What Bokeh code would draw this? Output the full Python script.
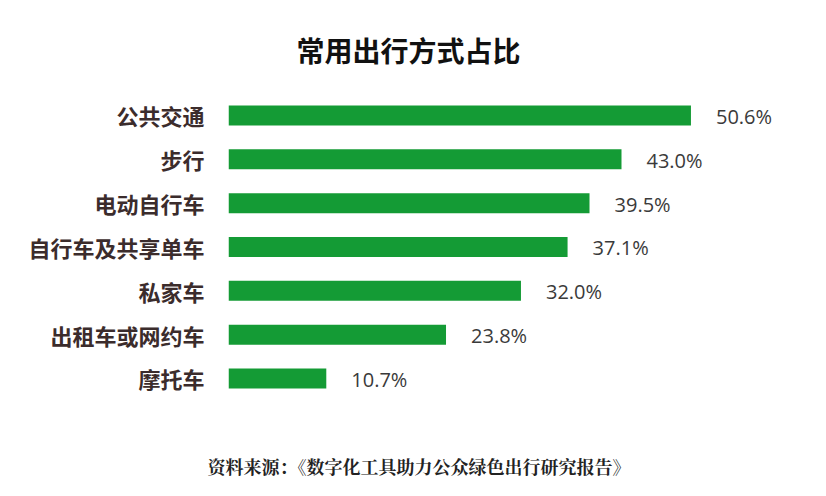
from bokeh.plotting import figure
from bokeh.models import Range1d, FixedTicker, Title, ColumnDataSource
from bokeh.core.properties import value
from bokeh.embed import file_html
from bokeh.resources import INLINE

categories = ["公共交通", "步行", "电动自行车", "自行车及共享单车", "私家车", "出租车或网约车", "摩托车"]
shares = [50.6, 43.0, 39.5, 37.1, 32.0, 23.8, 10.7]
share_labels = ["50.6%", "43.0%", "39.5%", "37.1%", "32.0%", "23.8%", "10.7%"]
title_text = "常用出行方式占比"
source_text = "资料来源：《数字化工具助力公众绿色出行研究报告》"

idx = list(range(len(categories)))
src = ColumnDataSource(dict(y=idx, v=shares, lab=share_labels))

CJK = "Noto Sans CJK SC"

p = figure(width=810, height=480, output_backend="svg", toolbar_location=None,
           x_range=Range1d(0, 63.68), y_range=Range1d(7.689, -0.844),
           x_axis_location=None, y_axis_location="left",
           min_border_left=228, min_border_right=0, min_border_top=78, min_border_bottom=28)
p.outline_line_color = None
p.grid.visible = False
p.background_fill_color = "white"
p.border_fill_color = "white"

p.hbar(y="y", right="v", left=0, height=0.456, source=src, fill_color="#149b35", line_color=None)
p.text(x="v", y="y", text="lab", source=src, x_offset=25, y_offset=1,
       text_align="left", text_baseline="middle",
       text_font=value("Open Sans"), text_font_size="20px", text_color="#3a3a3a")

ya = p.yaxis[0]
ya.ticker = FixedTicker(ticks=idx)
ya.major_label_overrides = {i: c for i, c in zip(idx, categories)}
ya.axis_line_color = None
ya.major_tick_line_color = None
ya.minor_tick_line_color = None
ya.major_tick_out = 0
ya.major_tick_in = 0
ya.major_label_standoff = 24
ya.major_label_text_font = CJK
ya.major_label_text_font_size = "22px"
ya.major_label_text_font_style = "bold"
ya.major_label_text_color = "#3b2c2c"

p.title = Title(text=title_text, align="left", offset=68, standoff=18,
                text_font=CJK, text_font_size="28px", text_font_style="bold", text_color="#111111")
p.add_layout(Title(text=source_text, align="left", offset=-21, standoff=0, vertical_align="top",
                   text_font="'Noto Serif CJK SC', 'Noto Sans CJK SC'", text_font_size="18px",
                   text_font_style="bold", text_color="#222222"), "below")

open("out.html", "w").write(file_html(p, INLINE))
